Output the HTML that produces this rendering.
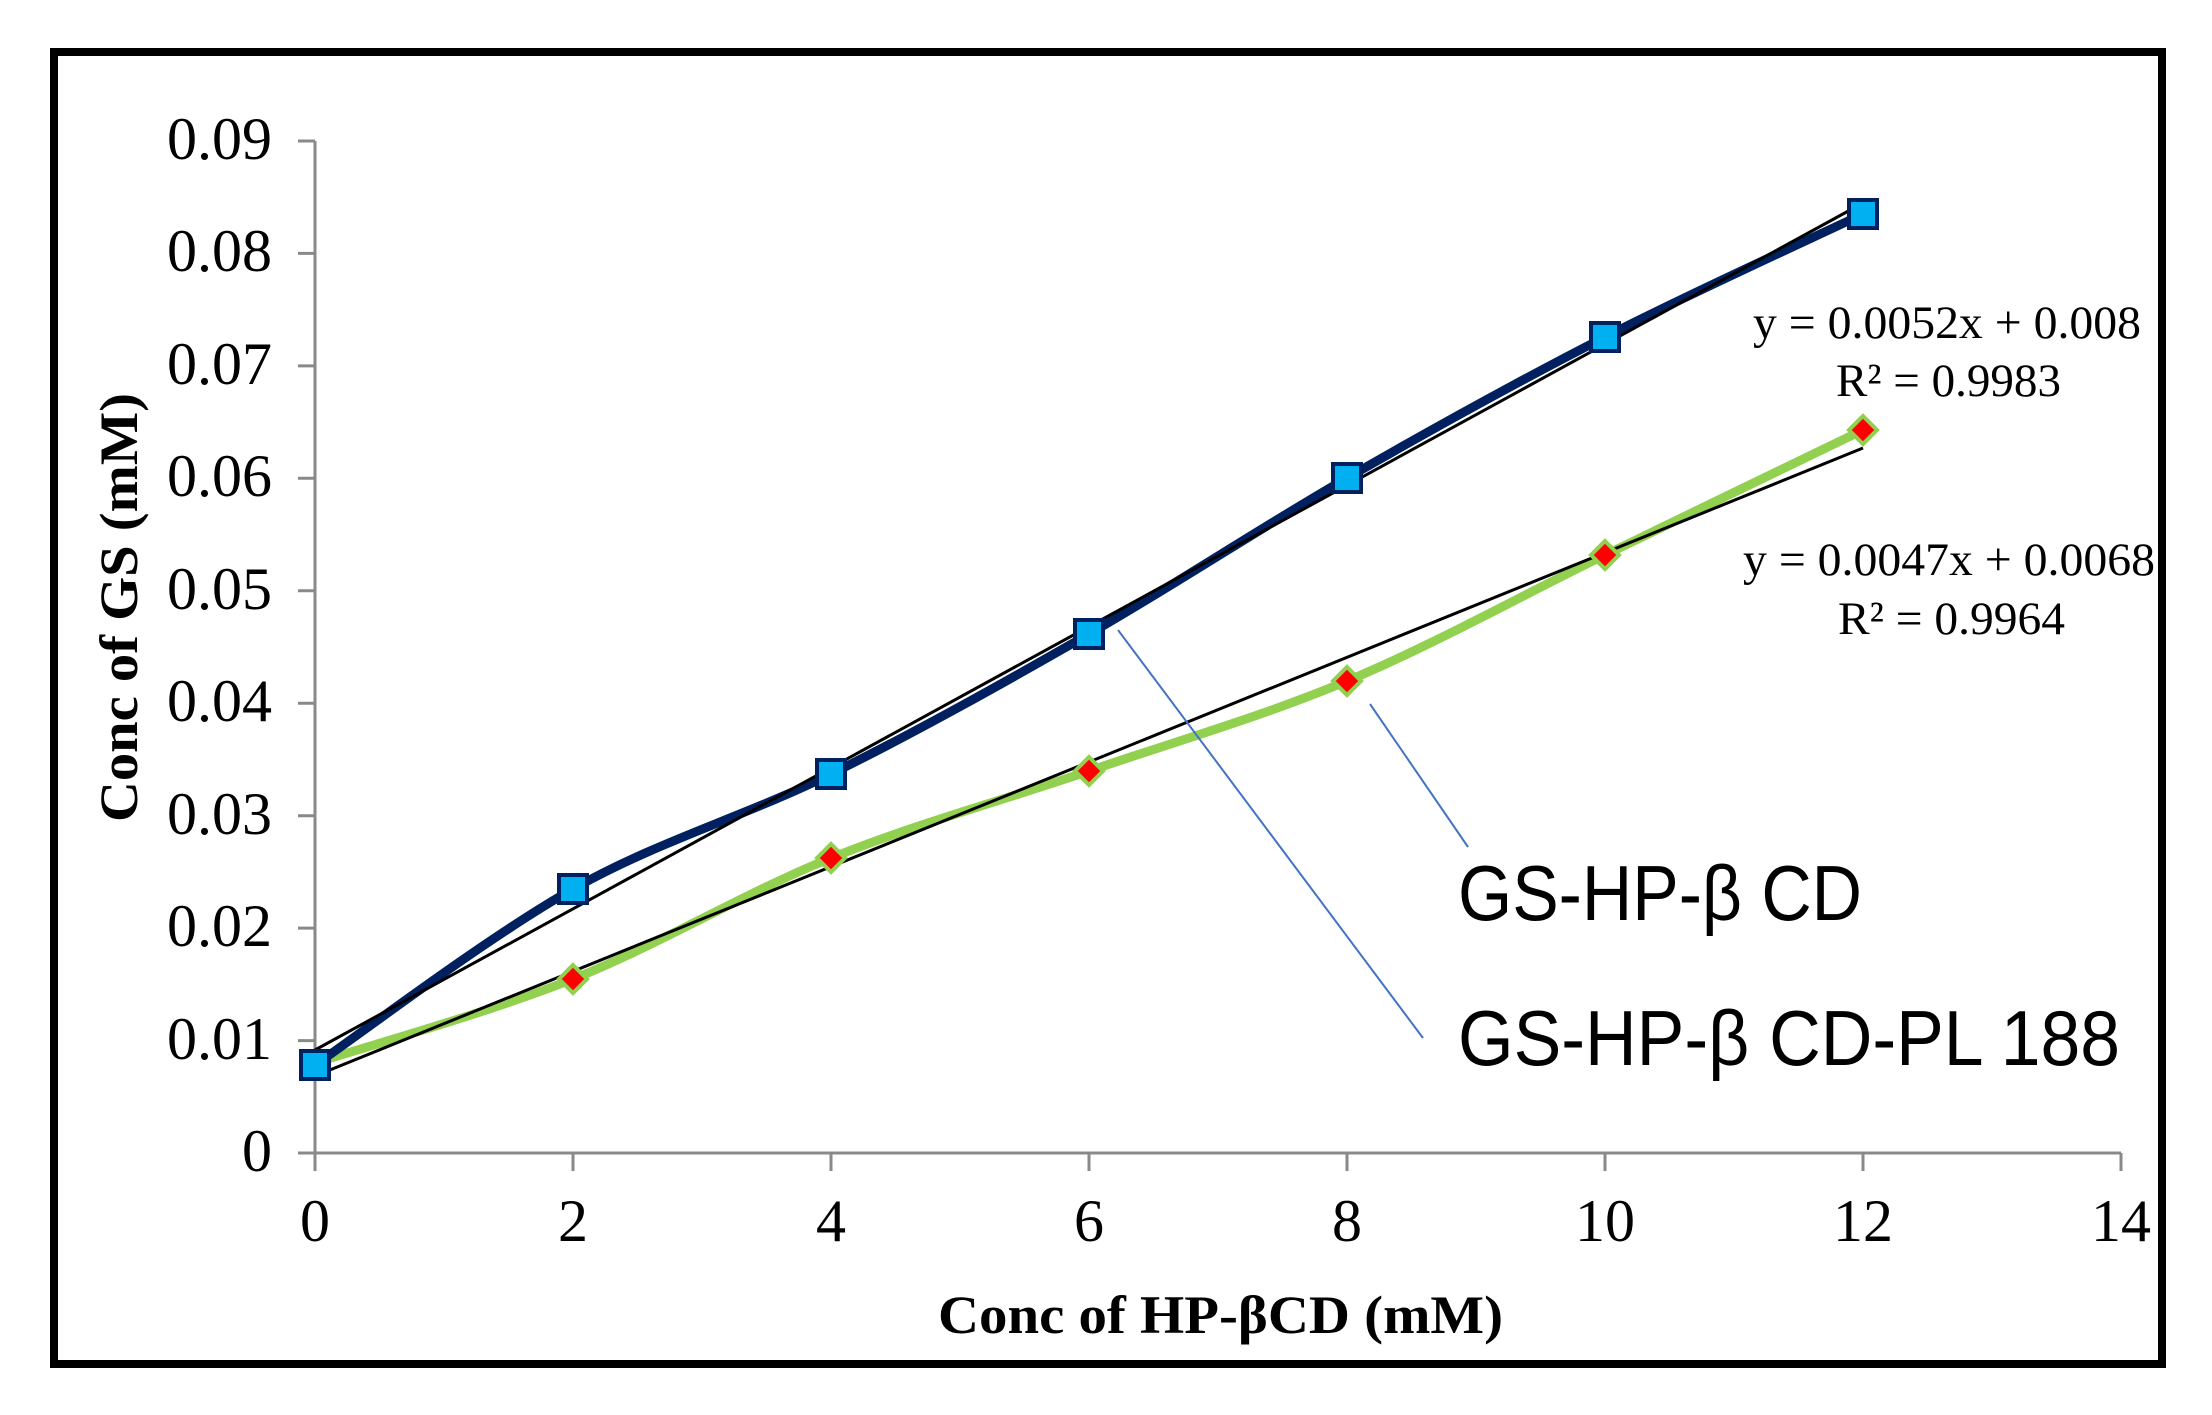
<!DOCTYPE html>
<html><head><meta charset="utf-8"><style>html,body{margin:0;padding:0;background:#fff}svg{display:block}</style></head>
<body>
<svg id="s" width="2212" height="1415" viewBox="0 0 2212 1415" xmlns="http://www.w3.org/2000/svg">
<rect x="0" y="0" width="2212" height="1415" fill="#fff"/>
<rect x="54" y="52" width="2108" height="1312" fill="none" stroke="#000" stroke-width="8"/>
<g stroke="#898989" stroke-width="3" fill="none">
<line x1="315" y1="141" x2="315" y2="1153"/>
<line x1="298" y1="1153" x2="2121" y2="1153"/>
<line x1="298" y1="141" x2="315" y2="141"/>
<line x1="298" y1="253.4" x2="315" y2="253.4"/>
<line x1="298" y1="365.9" x2="315" y2="365.9"/>
<line x1="298" y1="478.3" x2="315" y2="478.3"/>
<line x1="298" y1="590.8" x2="315" y2="590.8"/>
<line x1="298" y1="703.2" x2="315" y2="703.2"/>
<line x1="298" y1="815.7" x2="315" y2="815.7"/>
<line x1="298" y1="928.1" x2="315" y2="928.1"/>
<line x1="298" y1="1040.6" x2="315" y2="1040.6"/>
<line x1="315" y1="1153" x2="315" y2="1171"/>
<line x1="573" y1="1153" x2="573" y2="1171"/>
<line x1="831" y1="1153" x2="831" y2="1171"/>
<line x1="1089" y1="1153" x2="1089" y2="1171"/>
<line x1="1347" y1="1153" x2="1347" y2="1171"/>
<line x1="1605" y1="1153" x2="1605" y2="1171"/>
<line x1="1863" y1="1153" x2="1863" y2="1171"/>
<line x1="2121" y1="1153" x2="2121" y2="1171"/>
</g>
<g font-family="Liberation Serif, serif" font-size="60" fill="#000" text-anchor="end">
<text x="272" y="159">0.09</text>
<text x="272" y="271">0.08</text>
<text x="272" y="384">0.07</text>
<text x="272" y="496">0.06</text>
<text x="272" y="609">0.05</text>
<text x="272" y="721">0.04</text>
<text x="272" y="834">0.03</text>
<text x="272" y="946">0.02</text>
<text x="272" y="1059">0.01</text>
<text x="272" y="1171">0</text>
</g>
<g font-family="Liberation Serif, serif" font-size="60" fill="#000" text-anchor="middle">
<text x="315" y="1241">0</text>
<text x="573" y="1241">2</text>
<text x="831" y="1241">4</text>
<text x="1089" y="1241">6</text>
<text x="1347" y="1241">8</text>
<text x="1605" y="1241">10</text>
<text x="1863" y="1241">12</text>
<text x="2121" y="1241">14</text>
</g>
<text x="938" y="1333" font-family="Liberation Serif, serif" font-weight="bold" font-size="54" textLength="565" lengthAdjust="spacingAndGlyphs">Conc of HP-βCD (mM)</text>
<text transform="translate(137,822) rotate(-90)" x="0" y="0" font-family="Liberation Serif, serif" font-weight="bold" font-size="54" textLength="429" lengthAdjust="spacingAndGlyphs">Conc of GS (mM)</text>

<path id="green" fill="none" stroke="#92D050" stroke-width="9" stroke-linejoin="round"/>
<path id="blue" fill="none" stroke="#002060" stroke-width="9" stroke-linejoin="round"/>
<line x1="315" y1="1050" x2="1863" y2="203" stroke="#000" stroke-width="3"/>
<line x1="315" y1="1076" x2="1863" y2="448" stroke="#000" stroke-width="3"/>

<g id="dia"></g>
<g id="sq"></g>

<g stroke="#4472C4" stroke-width="2">
<line x1="1118" y1="630" x2="1423" y2="1038"/>
<line x1="1370" y1="704" x2="1468" y2="847"/>
</g>

<g font-family="Liberation Serif, serif" font-size="47" fill="#000">
<text x="1753" y="338" textLength="388" lengthAdjust="spacingAndGlyphs">y = 0.0052x + 0.008</text>
<text x="1836" y="396" textLength="225" lengthAdjust="spacingAndGlyphs">R² = 0.9983</text>
<text x="1743" y="575" textLength="412" lengthAdjust="spacingAndGlyphs">y = 0.0047x + 0.0068</text>
<text x="1838" y="634" textLength="227" lengthAdjust="spacingAndGlyphs">R² = 0.9964</text>
</g>
<g font-family="Liberation Sans, sans-serif" font-size="78" fill="#000">
<text x="1458" y="920" textLength="404" lengthAdjust="spacingAndGlyphs">GS-HP-β CD</text>
<text x="1458" y="1065" textLength="662" lengthAdjust="spacingAndGlyphs">GS-HP-β CD-PL 188</text>
</g>
</svg>
<script>
(function(){
var X=function(x){return 315+129*x;};
var bl=[[0,1065],[2,889],[4,774],[6,634],[8,478],[10,337],[12,214]];
var gr=[[0,1063],[2,979],[4,858],[6,771],[8,681],[10,555],[12,430]];
function sp(p){p=p.map(function(a){return [X(a[0]),a[1]];});
var d="M"+p[0][0]+","+p[0][1];
for(var i=0;i<p.length-1;i++){var p0=p[i-1]||p[i],p1=p[i],p2=p[i+1],p3=p[i+2]||p2,t=6;
d+=" C"+(p1[0]+(p2[0]-p0[0])/t)+","+(p1[1]+(p2[1]-p0[1])/t)+" "+(p2[0]-(p3[0]-p1[0])/t)+","+(p2[1]-(p3[1]-p1[1])/t)+" "+p2[0]+","+p2[1];}
return d;}
document.getElementById("blue").setAttribute("d",sp(bl));
document.getElementById("green").setAttribute("d",sp(gr));
var ns="http://www.w3.org/2000/svg",g=document.getElementById("dia"),s=document.getElementById("sq");
gr.forEach(function(a){if(a[0]==0)return;var e=document.createElementNS(ns,"polygon"),x=X(a[0]),y=a[1],r=14;
e.setAttribute("points",x+","+(y-r)+" "+(x+r)+","+y+" "+x+","+(y+r)+" "+(x-r)+","+y);
e.setAttribute("fill","#FF0000");e.setAttribute("stroke","#92D050");e.setAttribute("stroke-width","4");g.appendChild(e);});
bl.forEach(function(a){var e=document.createElementNS(ns,"rect"),x=X(a[0]),y=a[1];
e.setAttribute("x",x-14);e.setAttribute("y",y-14);e.setAttribute("width",28);e.setAttribute("height",28);
e.setAttribute("fill","#00B0F0");e.setAttribute("stroke","#002060");e.setAttribute("stroke-width","4");s.appendChild(e);});
})();
</script>
</body></html>
